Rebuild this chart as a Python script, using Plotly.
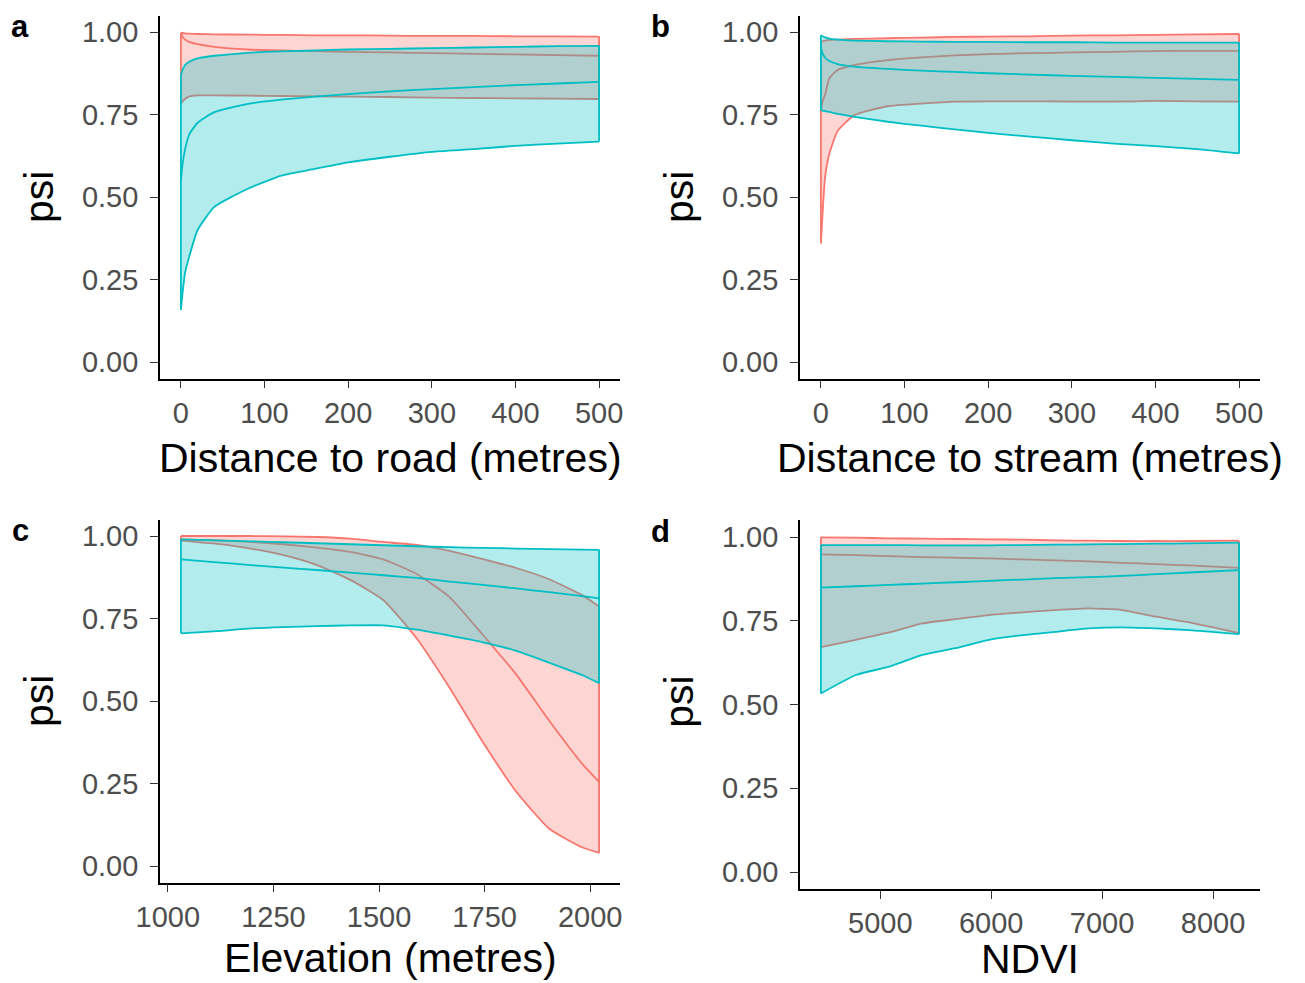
import plotly.graph_objects as go

RED = "#F8766D"
CYAN = "#00BFC4"
RED_FILL = "rgba(248,118,109,0.3)"
CYAN_FILL = "rgba(0,191,196,0.3)"

# ---------------- Panel a: distance to road ----------------
road_x = [0, 2, 5, 10, 20, 40, 80, 120, 160, 200, 250, 300, 350, 400, 450, 500]
road_red_low = [0.784, 0.790, 0.797, 0.805, 0.808, 0.808, 0.807, 0.806, 0.805, 0.804, 0.803, 0.801, 0.800, 0.799, 0.798, 0.797]
road_red_mid = [0.995, 0.985, 0.977, 0.970, 0.963, 0.955, 0.947, 0.944, 0.942, 0.940, 0.938, 0.936, 0.934, 0.932, 0.930, 0.928]
road_red_up = [0.998, 0.997, 0.996, 0.995, 0.994, 0.993, 0.992, 0.991, 0.990, 0.990, 0.989, 0.988, 0.988, 0.987, 0.987, 0.986]
road_cy_low = [0.158, 0.210, 0.270, 0.320, 0.400, 0.470, 0.525, 0.565, 0.585, 0.605, 0.622, 0.637, 0.645, 0.655, 0.662, 0.668]
road_cy_mid = [0.550, 0.600, 0.645, 0.690, 0.725, 0.757, 0.782, 0.795, 0.804, 0.812, 0.820, 0.827, 0.833, 0.839, 0.844, 0.849]
road_cy_up = [0.870, 0.885, 0.900, 0.910, 0.920, 0.928, 0.937, 0.941, 0.944, 0.947, 0.949, 0.951, 0.953, 0.955, 0.957, 0.958]

# ---------------- Panel b: distance to stream ----------------
stream_x = [0, 2, 5, 10, 20, 40, 80, 120, 160, 200, 250, 300, 350, 400, 450, 500]
stream_red_low = [0.360, 0.450, 0.560, 0.630, 0.700, 0.748, 0.775, 0.783, 0.789, 0.790, 0.790, 0.789, 0.789, 0.791, 0.790, 0.789]
stream_red_mid = [0.760, 0.790, 0.810, 0.860, 0.885, 0.900, 0.915, 0.923, 0.929, 0.933, 0.936, 0.938, 0.940, 0.942, 0.943, 0.943]
stream_red_up = [0.970, 0.972, 0.974, 0.976, 0.977, 0.979, 0.981, 0.983, 0.985, 0.986, 0.987, 0.989, 0.990, 0.991, 0.993, 0.994]
stream_cy_low = [0.764, 0.762, 0.760, 0.758, 0.752, 0.743, 0.728, 0.716, 0.705, 0.694, 0.683, 0.672, 0.662, 0.654, 0.645, 0.632]
stream_cy_mid = [0.955, 0.935, 0.922, 0.912, 0.903, 0.895, 0.888, 0.883, 0.879, 0.875, 0.871, 0.867, 0.864, 0.861, 0.858, 0.855]
stream_cy_up = [0.990, 0.987, 0.984, 0.980, 0.977, 0.974, 0.972, 0.971, 0.970, 0.970, 0.969, 0.969, 0.968, 0.968, 0.968, 0.968]

# ---------------- Panel c: elevation ----------------
elev_x = [1031, 1117, 1196, 1274, 1353, 1432, 1510, 1589, 1667, 1746, 1825, 1903, 1982, 2021]
elev_red_low = [0.986, 0.976, 0.962, 0.942, 0.912, 0.867, 0.806, 0.690, 0.540, 0.375, 0.225, 0.113, 0.056, 0.040]
elev_red_mid = [0.990, 0.987, 0.982, 0.975, 0.965, 0.952, 0.929, 0.885, 0.815, 0.700, 0.580, 0.440, 0.308, 0.255]
elev_red_up = [1.000, 1.000, 1.000, 0.999, 0.997, 0.992, 0.982, 0.973, 0.955, 0.930, 0.903, 0.869, 0.820, 0.786]
elev_cy_low = [0.705, 0.712, 0.720, 0.724, 0.727, 0.729, 0.729, 0.716, 0.698, 0.678, 0.652, 0.616, 0.578, 0.554]
elev_cy_mid = [0.929, 0.920, 0.912, 0.904, 0.897, 0.889, 0.881, 0.873, 0.862, 0.852, 0.841, 0.830, 0.818, 0.811]
elev_cy_up = [0.990, 0.987, 0.984, 0.981, 0.978, 0.975, 0.972, 0.969, 0.966, 0.964, 0.962, 0.960, 0.959, 0.958]

# ---------------- Panel d: NDVI ----------------
ndvi_x = [4465, 4780, 5080, 5380, 5680, 5980, 6280, 6580, 6880, 7180, 7485, 7785, 8235]
ndvi_red_low = [0.671, 0.693, 0.715, 0.742, 0.755, 0.767, 0.775, 0.782, 0.787, 0.782, 0.762, 0.745, 0.713]
ndvi_red_mid = [0.948, 0.946, 0.943, 0.940, 0.938, 0.936, 0.933, 0.930, 0.927, 0.923, 0.919, 0.915, 0.908]
ndvi_red_up = [0.999, 0.998, 0.996, 0.995, 0.994, 0.993, 0.992, 0.990, 0.989, 0.988, 0.988, 0.988, 0.989]
ndvi_cy_low = [0.533, 0.588, 0.613, 0.648, 0.668, 0.693, 0.707, 0.717, 0.727, 0.730, 0.727, 0.722, 0.710]
ndvi_cy_mid = [0.849, 0.853, 0.857, 0.861, 0.865, 0.869, 0.873, 0.877, 0.880, 0.884, 0.889, 0.894, 0.901]
ndvi_cy_up = [0.976, 0.976, 0.976, 0.975, 0.975, 0.975, 0.976, 0.977, 0.978, 0.979, 0.980, 0.981, 0.983]

y_ticks = [0.0, 0.25, 0.5, 0.75, 1.0]
y_tick_labels = ["0.00", "0.25", "0.50", "0.75", "1.00"]

panels = [
    dict(name="a", x=road_x, series=(road_red_low, road_red_mid, road_red_up, road_cy_low, road_cy_mid, road_cy_up),
         xtitle="Distance to road (metres)", xticks=[0, 100, 200, 300, 400, 500]),
    dict(name="b", x=stream_x, series=(stream_red_low, stream_red_mid, stream_red_up, stream_cy_low, stream_cy_mid, stream_cy_up),
         xtitle="Distance to stream (metres)", xticks=[0, 100, 200, 300, 400, 500]),
    dict(name="c", x=elev_x, series=(elev_red_low, elev_red_mid, elev_red_up, elev_cy_low, elev_cy_mid, elev_cy_up),
         xtitle="Elevation (metres)", xticks=[1000, 1250, 1500, 1750, 2000]),
    dict(name="d", x=ndvi_x, series=(ndvi_red_low, ndvi_red_mid, ndvi_red_up, ndvi_cy_low, ndvi_cy_mid, ndvi_cy_up),
         xtitle="NDVI", xticks=[5000, 6000, 7000, 8000]),
]

W, H = 1305, 983
# pixel boxes (left, right, top, bottom) of each panel
boxes = [(160, 620, 15.5, 378.5), (800, 1260, 15.5, 378.5), (160, 620, 519.5, 882.5), (800, 1260, 520.25, 888.75)]
# vertical centre (px) of each x-axis title
xtitle_y = [458, 458, 958, 959]

FONT = "Arial, 'Liberation Sans', sans-serif"
LW = 1.8
SPL = dict(shape="spline", smoothing=0.5)
fig = go.Figure()
layout = {}
annotations = []

for i, (p, box) in enumerate(zip(panels, boxes)):
    n = "" if i == 0 else str(i + 1)
    xa, ya = "x" + n, "y" + n
    xs = p["x"]
    rl, rm, ru, cl, cm, cu = p["series"]
    for low, mid, up, col, fill in ((rl, rm, ru, RED, RED_FILL), (cl, cm, cu, CYAN, CYAN_FILL)):
        common_tr = dict(xaxis=xa, yaxis=ya, showlegend=False, hoverinfo="skip")
        fig.add_trace(go.Scatter(x=xs, y=low, mode="lines", line=dict(color=col, width=LW, **SPL), **common_tr))
        fig.add_trace(go.Scatter(x=xs, y=up, mode="lines", fill="tonexty", fillcolor=fill,
                                 line=dict(color=col, width=LW, **SPL), **common_tr))
        # ribbon end caps
        fig.add_trace(go.Scatter(x=[xs[0], xs[0], None, xs[-1], xs[-1]], y=[low[0], up[0], None, low[-1], up[-1]],
                                 mode="lines", line=dict(color=col, width=LW), **common_tr))
        fig.add_trace(go.Scatter(x=xs, y=mid, mode="lines", line=dict(color=col, width=LW, **SPL), **common_tr))
    l, r, t, b = box
    xmin, xmax = min(xs), max(xs)
    span = xmax - xmin
    common = dict(showline=True, linecolor="black", linewidth=1.6, ticks="outside", ticklen=8,
                  tickwidth=1.4, tickcolor="#333333", showgrid=False, zeroline=False, automargin=False,
                  tickfont=dict(family=FONT, size=29, color="#4D4D4D"))
    layout["xaxis" + n] = dict(domain=[l / W, r / W], anchor=ya, range=[xmin - 0.05 * span, xmax + 0.05 * span],
                               tickvals=p["xticks"], ticktext=[str(v) for v in p["xticks"]], **common)
    layout["yaxis" + n] = dict(domain=[1 - b / H, 1 - t / H], anchor=xa, range=[-0.05, 1.05],
                               tickvals=y_ticks, ticktext=y_tick_labels, ticklabelstandoff=6, **common)
    cx = (l + r) / 2
    ytitle_y = t + 16.5 + 165
    annotations.append(dict(text=p["xtitle"], x=cx / W, y=1 - xtitle_y[i] / H, xref="paper", yref="paper",
                            xanchor="center", yanchor="middle", showarrow=False,
                            font=dict(family=FONT, size=41, color="black")))
    annotations.append(dict(text="psi", x=(l - 121) / W, y=1 - ytitle_y / H, xref="paper", yref="paper",
                            xanchor="center", yanchor="middle", textangle=-90, showarrow=False,
                            font=dict(family=FONT, size=41, color="black")))
    annotations.append(dict(text="<b>" + p["name"] + "</b>", x=(l - 140) / W, y=1 - (t + 11) / H,
                            xref="paper", yref="paper", xanchor="center", yanchor="middle", showarrow=False,
                            font=dict(family=FONT, size=31, color="black")))

fig.update_layout(width=W, height=H, margin=dict(l=0, r=0, t=0, b=0), plot_bgcolor="white",
                  paper_bgcolor="white", showlegend=False, annotations=annotations, **layout)
fig.write_html("out.html", config={"displayModeBar": False},
               post_script="document.body.style.margin='0';document.body.style.overflow='hidden';")
